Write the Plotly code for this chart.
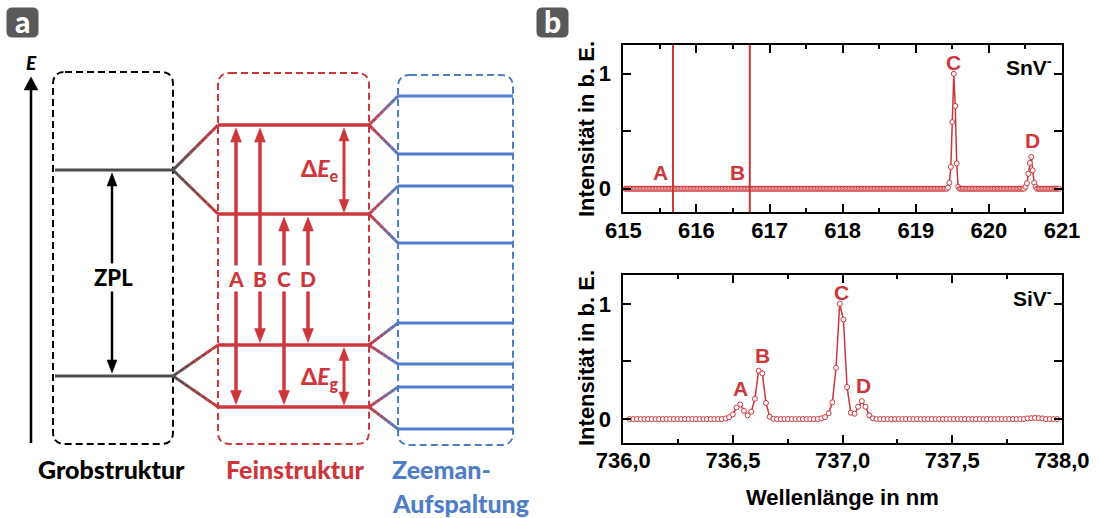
import plotly.graph_objects as go

# ---------------- panel b data ----------------
snv_start, snv_step, snv_count = 615.02, 0.02, 298
snv_intensity = ([0.0] * 221
                 + [0.009, 0.052, 0.19, 0.58, 1.0, 0.72, 0.22, 0.017]
                 + [0.0] * 45
                 + [0.017, 0.047, 0.13, 0.224, 0.277, 0.16, 0.052, 0.017]
                 + [0.0] * 16)
snv_wavelength = [round(snv_start + snv_step * i, 4) for i in range(snv_count)]
snv_line_positions = [615.68, 616.73]
peak_names = ["A", "B", "C", "D"]
snv_label_x = [615.51, 616.56, 619.52, 620.59]
snv_label_y = [0.143, 0.143, 1.10, 0.417]

siv_start, siv_step, siv_count = 736.029, 0.0168, 117
siv_intensity = ([0.0] * 26
                 + [0.005, 0.017, 0.04, 0.10, 0.127, 0.072, 0.032, 0.064, 0.176, 0.42, 0.396, 0.14, 0.02, 0.003]
                 + [0.0] * 12
                 + [0.006, 0.017, 0.05, 0.145, 0.445, 1.0, 0.864, 0.277, 0.055, 0.046, 0.107, 0.156, 0.107, 0.032, 0.006]
                 + [0.0] * 41
                 + [0.006, 0.008, 0.01, 0.008, 0.006]
                 + [0.0] * 4)
siv_wavelength = [round(siv_start + siv_step * i, 4) for i in range(siv_count)]
siv_label_x = [736.534, 736.634, 736.996, 737.096]
siv_label_y = [0.262, 0.548, 1.101, 0.288]

snv_xticks = [615, 616, 617, 618, 619, 620, 621]
siv_xticks = [736.0, 736.5, 737.0, 737.5, 738.0]
y_tickvals = [0, 1]

# ---------------- panel a (schematic, pixel units) ----------------
grob_levels = [170, 376]
fine_levels = [125, 214, 345, 407]
zeeman_levels = [96, 154, 186, 243, 323, 364, 387, 429]
transition_x = [236, 260, 284, 308]
transition_top = [125, 125, 214, 214]
transition_bottom = [407, 345, 407, 345]

RED = "#cc373c"
BLUE = "#4f7dc8"
GRAY = "#4d4d4d"
FB = "Liberation Sans"
FA = "Lato"
FA_W = 900

W, H = 1099, 518
fig = go.Figure()

common_marker = dict(symbol="circle", size=5, color="white", line=dict(color=RED, width=1))
fig.add_trace(go.Scatter(x=snv_wavelength, y=snv_intensity, mode="lines+markers",
                         line=dict(color=RED, width=1.5), marker=common_marker,
                         xaxis="x", yaxis="y", showlegend=False, hoverinfo="skip"))
fig.add_trace(go.Scatter(x=siv_wavelength, y=siv_intensity, mode="lines+markers",
                         line=dict(color=RED, width=1.5), marker=common_marker,
                         xaxis="x2", yaxis="y2", showlegend=False, hoverinfo="skip"))
fig.add_trace(go.Scatter(x=[], y=[], xaxis="x3", yaxis="y3", showlegend=False))

xdom = [623.3 / W, 1062 / W]
tickfont = dict(family=FB, size=22, color="black", weight="bold")
axis_common = dict(showline=True, linewidth=2, linecolor="black", mirror="ticks",
                   ticks="inside", ticklen=8, tickwidth=2, tickcolor="black",
                   showgrid=False, zeroline=False, tickfont=tickfont, automargin=False)
yminor = dict(dtick=0.5, tick0=0, ticks="inside", ticklen=8, tickwidth=2, tickcolor="black", showgrid=False)

fig.update_layout(
    template="none",
    width=W, height=H, margin=dict(l=0, r=0, t=0, b=0, pad=0), autosize=False,
    paper_bgcolor="white", plot_bgcolor="rgba(0,0,0,0)", separators=",.",
    xaxis=dict(domain=xdom, anchor="y", range=[615, 621], tickvals=snv_xticks,
               minor=dict(dtick=0.5, tick0=615, ticks="inside", ticklen=4, tickwidth=2, tickcolor="black", showgrid=False),
               ticklabelstandoff=-3, **axis_common),
    yaxis=dict(domain=[1 - 212.3 / H, 1 - 45 / H], anchor="x", range=[-0.205, 1.25],
               tickvals=y_tickvals, minor=yminor, ticklabelstandoff=6, **axis_common),
    xaxis2=dict(domain=xdom, anchor="y2", range=[736, 738], tickvals=siv_xticks, tickformat=".1f",
                minor=dict(dtick=0.25, tick0=736, ticks="inside", ticklen=4, tickwidth=2, tickcolor="black", showgrid=False),
                ticklabelstandoff=-3, **axis_common),
    yaxis2=dict(domain=[1 - 442.7 / H, 1 - 275 / H], anchor="x2", range=[-0.205, 1.25],
                tickvals=y_tickvals, minor=yminor, ticklabelstandoff=6, **axis_common),
    xaxis3=dict(domain=[0, 1], anchor="y3", range=[0, W], visible=False, fixedrange=True, automargin=False),
    yaxis3=dict(domain=[0, 1], anchor="x3", range=[H, 0], visible=False, fixedrange=True, automargin=False),
)

shapes = []
ann = []


def px_line(x0, y0, x1, y1, color, width, dash=None):
    d = dict(type="line", xref="x3", yref="y3", x0=x0, y0=y0, x1=x1, y1=y1,
             line=dict(color=color, width=width), layer="above")
    if dash:
        d["line"]["dash"] = dash
    shapes.append(d)


def hex2rgb(h):
    h = h.lstrip("#")
    return [int(h[i:i + 2], 16) for i in (0, 2, 4)]


def grad_line(x0, y0, x1, y1, c0, c1, width, n=8):
    a, b = hex2rgb(c0), hex2rgb(c1)
    for i in range(n):
        t0, t1 = i / n, (i + 1) / n
        tm = (t0 + t1) / 2
        col = "rgb(%d,%d,%d)" % tuple(round(a[k] + (b[k] - a[k]) * tm) for k in range(3))
        px_line(x0 + (x1 - x0) * t0, y0 + (y1 - y0) * t0,
                x0 + (x1 - x0) * t1, y0 + (y1 - y0) * t1, col, width)


def rrect(x0, y0, x1, y1, r, color, width, dash=None, fill=None):
    p = (f"M{x0 + r},{y0} L{x1 - r},{y0} Q{x1},{y0} {x1},{y0 + r} L{x1},{y1 - r} "
         f"Q{x1},{y1} {x1 - r},{y1} L{x0 + r},{y1} Q{x0},{y1} {x0},{y1 - r} "
         f"L{x0},{y0 + r} Q{x0},{y0} {x0 + r},{y0} Z")
    d = dict(type="path", xref="x3", yref="y3", path=p, layer="above",
             line=dict(color=color, width=width))
    if dash:
        d["line"]["dash"] = dash
    if fill:
        d["fillcolor"] = fill
    shapes.append(d)


def head(x, ytip, up, length, hw, color):
    yb = ytip + length if up else ytip - length
    shapes.append(dict(type="path", xref="x3", yref="y3", layer="above",
                       path=f"M{x},{ytip} L{x - hw},{yb} L{x + hw},{yb} Z",
                       fillcolor=color, line=dict(color=color, width=0.5)))


def double_arrow(x, ytop, ybot, color, width, length, hw):
    px_line(x, ytop + length - 1, x, ybot - length + 1, color, width)
    head(x, ytop, True, length, hw, color)
    head(x, ybot, False, length, hw, color)


# boxes
rrect(53, 72, 173, 444, 12, "black", 2, "7px,4px")
rrect(218, 73, 369, 444, 12, RED, 2, "7px,4px")
rrect(398, 75, 513, 445, 12, BLUE, 2, "7px,4px")

# energy axis
px_line(31, 443, 31, 86, "black", 2.5)
head(31, 77, True, 13, 7, "black")

# coarse levels
for y in grob_levels:
    px_line(55, y, 173, y, GRAY, 3)
# coarse -> fine connectors
for gy, pair in zip(grob_levels, [(0, 1), (2, 3)]):
    for j in pair:
        grad_line(173, gy, 218, fine_levels[j], GRAY, RED, 3)
# fine levels
for y in fine_levels:
    px_line(218, y, 369, y, RED, 3.5)
# fine -> zeeman connectors
for j, fy in enumerate(fine_levels):
    for k in (2 * j, 2 * j + 1):
        grad_line(369, fy, 398, zeeman_levels[k], RED, BLUE, 3)
# zeeman levels
for y in zeeman_levels:
    px_line(398, y, 513, y, BLUE, 3)

# ZPL arrow
double_arrow(112, 173, 373, "black", 2.5, 13, 5)
# transitions
for x, yt, yb in zip(transition_x, transition_top, transition_bottom):
    double_arrow(x, yt + 3, yb - 2.5, RED, 3.5, 14, 5.5)
# splitting arrows
double_arrow(344, 128, 212.5, RED, 3, 13, 5)
double_arrow(344, 347.5, 405, RED, 3, 13, 5)

# panel badges
rrect(7, 8, 38, 37, 5, "#595959", 1, fill="#595959")
rrect(537, 8, 568, 37, 5, "#595959", 1, fill="#595959")


def txt(x, y, s, size, color, xanchor="center", family=FA, bg=None, ref=("x3", "y3"), angle=0, weight=None):
    if weight is None:
        weight = FA_W if family == FA else "bold"
    d = dict(x=x, y=y, xref=ref[0], yref=ref[1], text=s, showarrow=False,
             xanchor=xanchor, yanchor="middle", textangle=angle,
             font=dict(family=family, size=size, color=color, weight=weight))
    if bg:
        d["bgcolor"] = bg
        d["borderpad"] = 0
    ann.append(d)


txt(22.5, 21, "a", 30, "white")
txt(552.5, 21, "b", 30, "white")
txt(31, 62, "<i>E</i>", 19, "black")
txt(113, 277, "ZPL", 22, "black", bg="white")
for name, x in zip(peak_names, transition_x):
    txt(x, 278, name, 21, RED, bg="white")
txt(341, 169, "Δ<i>E</i><sub>e</sub>", 23, RED, xanchor="right")
txt(341, 377, "Δ<i>E</i><sub>g</sub>", 23, RED, xanchor="right")
txt(111, 469, "Grobstruktur", 25, "black")
txt(295, 469, "Feinstruktur", 25, RED)
txt(390, 469, "Zeeman-", 25, BLUE, xanchor="left")
txt(390, 503, "Aufspaltung", 25, BLUE, xanchor="left")

# panel b annotations
for xv in snv_line_positions:
    shapes.append(dict(type="line", xref="x", yref="y domain", x0=xv, x1=xv, y0=0, y1=1,
                       line=dict(color=RED, width=2)))
for n, x, y in zip(peak_names, snv_label_x, snv_label_y):
    txt(x, y, n, 21, RED, family=FB, ref=("x", "y"))
for n, x, y in zip(peak_names, siv_label_x, siv_label_y):
    txt(x, y, n, 21, RED, family=FB, ref=("x2", "y2"))
txt(1054, 66, "SnV<sup>-</sup>", 21, "black", xanchor="right", family=FB)
txt(1054, 297, "SiV<sup>-</sup>", 21, "black", xanchor="right", family=FB)
txt(586, 129, "Intensität in b. E.", 22, "black", family=FB, angle=-90)
txt(586, 358, "Intensität in b. E.", 22, "black", family=FB, angle=-90)
txt(842, 497, "Wellenlänge in nm", 22, "black", family=FB)

fig.update_layout(shapes=shapes, annotations=ann)
fig.write_html("out.html", config={"displayModeBar": False},
               post_script="document.body.style.margin='0px';document.body.style.overflow='hidden';")
